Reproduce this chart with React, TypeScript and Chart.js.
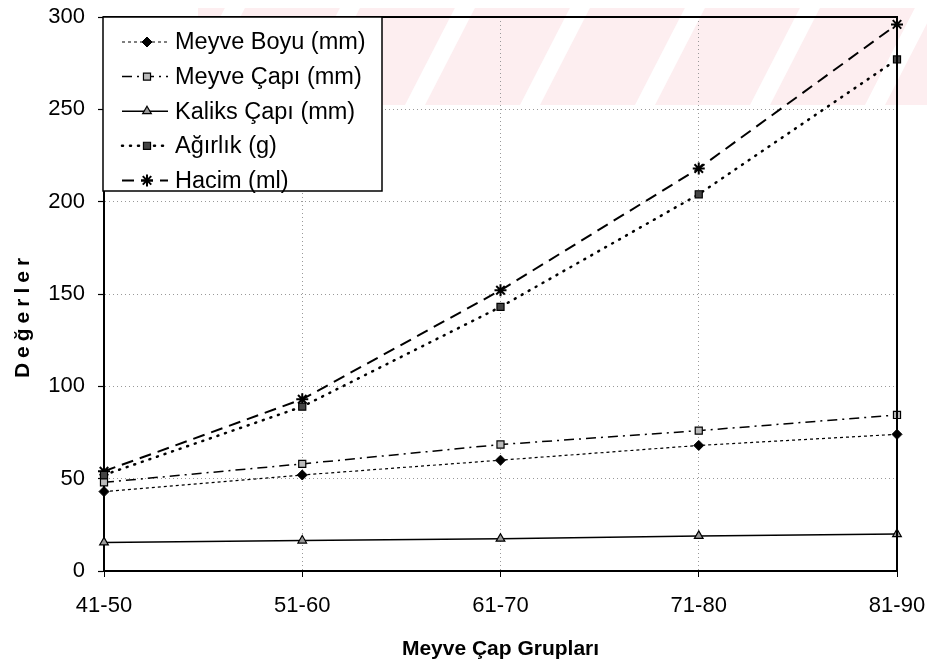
import React, { useEffect, useRef } from 'react';
import { Chart, registerables } from 'chart.js';
import { drawPoint } from 'chart.js/helpers';

Chart.register(...registerables);

const categories = ['41-50', '51-60', '61-70', '71-80', '81-90'];
const seriesNames = ['Meyve Boyu (mm)', 'Meyve Çapı (mm)', 'Kaliks Çapı (mm)', 'Ağırlık (g)', 'Hacim (ml)'];
const meyveBoyu = [43, 52, 60, 68, 74];
const meyveCapi = [48, 58, 68.5, 76, 84.5];
const kaliksCapi = [15.5, 16.5, 17.5, 19, 20];
const agirlik = [52, 89, 143, 204, 277];
const hacim = [54, 93, 152, 218, 296];
const yMin = 0;
const yMax = 300;
const yStep = 50;
const xTitle = 'Meyve Çap Grupları';
const yTitle = 'Değerler';

const FONT = '"Liberation Sans", Arial, sans-serif';
const W = 935;
const H = 668;

// faint pink scan watermark in the top band
const watermarkPlugin = {
  id: 'watermark',
  beforeDraw(chart: any) {
    const { ctx, width } = chart;
    const bandH = 105;
    const x0 = 198;
    ctx.save();
    ctx.fillStyle = '#ffffff';
    ctx.fillRect(0, 0, width, chart.height);
    ctx.beginPath();
    ctx.rect(x0, 0, width - x0, bandH);
    ctx.clip();
    ctx.fillStyle = '#fdeef0';
    ctx.fillRect(x0, 0, width - x0, bandH);
    ctx.fillStyle = '#ffffff';
    for (let x = 175; x < width + 120; x += 115) {
      ctx.beginPath();
      ctx.moveTo(x, bandH);
      ctx.lineTo(x + 20, bandH);
      ctx.lineTo(x + 20 + 54, 0);
      ctx.lineTo(x + 54, 0);
      ctx.closePath();
      ctx.fill();
    }
    ctx.restore();
  },
};

const framePlugin = {
  id: 'frame',
  afterDatasetsDraw(chart: any) {
    const { ctx, chartArea } = chart;
    ctx.save();
    ctx.strokeStyle = '#000';
    ctx.lineWidth = 2;
    ctx.beginPath();
    ctx.moveTo(chartArea.left, chartArea.top);
    ctx.lineTo(chartArea.right, chartArea.top);
    ctx.lineTo(chartArea.right, chartArea.bottom);
    ctx.stroke();
    ctx.restore();
  },
};

const legendPlugin = {
  id: 'boxLegend',
  afterDraw(chart: any) {
    const { ctx, chartArea } = chart;
    const left = chartArea.left - 1;
    const top = chartArea.top;
    const w = 279;
    const h = 174;
    ctx.save();
    ctx.fillStyle = '#fff';
    ctx.fillRect(left, top, w, h);
    ctx.strokeStyle = '#000';
    ctx.lineWidth = 1.5;
    ctx.strokeRect(left, top, w, h);
    chart.data.datasets.forEach((ds: any, i: number) => {
      const y = top + 25 + i * 34.6;
      ctx.save();
      ctx.strokeStyle = ds.borderColor;
      ctx.lineWidth = ds.borderWidth;
      ctx.lineCap = ds.borderCapStyle || 'butt';
      ctx.setLineDash(ds.borderDash || []);
      ctx.beginPath();
      ctx.moveTo(left + 19, y);
      ctx.lineTo(left + 65, y);
      ctx.stroke();
      ctx.restore();
      ctx.save();
      ctx.fillStyle = ds.pointBackgroundColor;
      ctx.strokeStyle = '#000';
      ctx.lineWidth = ds.pointBorderWidth;
      ctx.setLineDash([]);
      drawPoint(ctx, {
        pointStyle: ds.pointStyle,
        radius: ds.pointRadius,
        rotation: 0,
        borderWidth: ds.pointBorderWidth,
      }, left + 44, y);
      ctx.restore();
      ctx.fillStyle = '#000';
      ctx.font = `23.5px ${FONT}`;
      ctx.textBaseline = 'middle';
      ctx.textAlign = 'left';
      ctx.fillText(ds.label, left + 72, y + 1);
    });
    ctx.restore();
  },
};

const yTitlePlugin = {
  id: 'yTitle',
  afterDraw(chart: any) {
    const { ctx } = chart;
    ctx.save();
    ctx.translate(23, 318);
    ctx.rotate(-Math.PI / 2);
    ctx.font = `bold 21px ${FONT}`;
    (ctx as any).letterSpacing = '5px';
    ctx.fillStyle = '#000';
    ctx.textAlign = 'center';
    ctx.textBaseline = 'middle';
    ctx.fillText(yTitle, 2.5, 0);
    ctx.restore();
  },
};

export default function App() {
  const ref = useRef<HTMLCanvasElement | null>(null);
  useEffect(() => {
    if (!ref.current) return;
    const common = { borderColor: '#000', pointBorderColor: '#000', fill: false, tension: 0 };
    const chart = new Chart(ref.current, {
      type: 'line',
      data: {
        labels: categories,
        datasets: [
          { ...common, label: seriesNames[0], data: meyveBoyu, borderWidth: 1.2, borderDash: [3, 3], pointStyle: 'rectRot', pointRadius: 5, pointBackgroundColor: '#000', pointBorderWidth: 1 },
          { ...common, label: seriesNames[1], data: meyveCapi, borderWidth: 1.5, borderDash: [10, 5, 2, 5], pointStyle: 'rect', pointRadius: 5, pointBackgroundColor: '#bbb', pointBorderWidth: 1.2 },
          { ...common, label: seriesNames[2], data: kaliksCapi, borderWidth: 1.5, borderDash: [], pointStyle: 'triangle', pointRadius: 5, pointBackgroundColor: '#999', pointBorderWidth: 1.2 },
          { ...common, label: seriesNames[3], data: agirlik, borderWidth: 2.5, borderDash: [1, 7], borderCapStyle: 'round', pointStyle: 'rect', pointRadius: 5, pointBackgroundColor: '#444', pointBorderWidth: 1.2 },
          { ...common, label: seriesNames[4], data: hacim, borderWidth: 2, borderDash: [12, 7], pointStyle: 'star', pointRadius: 6, pointBackgroundColor: '#000', pointBorderWidth: 2 },
        ] as any,
      },
      options: {
        responsive: false,
        animation: false,
        layout: { padding: { left: 8, top: 17, right: 38, bottom: 0 } },
        plugins: { legend: { display: false }, tooltip: { enabled: false } },
        scales: {
          x: {
            type: 'category',
            offset: false,
            afterFit: (s: any) => { s.height = 97; s.paddingLeft = 0; s.paddingRight = 0; },
            grid: {
              color: (c: any) => (c.index === 0 || c.index === categories.length - 1 ? 'rgba(0,0,0,0)' : '#999'),
              lineWidth: 1,
              tickLength: 6,
              tickColor: '#000',
              tickWidth: 1,
              tickBorderDash: [],
            } as any,
            border: { color: '#000', width: 2, dash: [1, 3] },
            ticks: { color: '#000', font: { family: FONT, size: 22 }, padding: 16, maxRotation: 0 },
            title: { display: true, text: xTitle, color: '#000', font: { family: FONT, size: 21, weight: 'bold', lineHeight: 1 }, padding: { top: 0, bottom: 8 } },
          },
          y: {
            min: yMin,
            max: yMax,
            afterFit: (s: any) => { s.width = 96; s.paddingTop = 0; s.paddingBottom = 0; },
            ticks: { stepSize: yStep, color: '#000', font: { family: FONT, size: 22 }, padding: 13 },
            grid: {
              color: (c: any) => (c.tick && (c.tick.value === yMin || c.tick.value === yMax) ? 'rgba(0,0,0,0)' : '#999'),
              lineWidth: 1,
              tickLength: 6,
              tickColor: '#000',
              tickWidth: 1.2,
              tickBorderDash: [],
            } as any,
            border: { color: '#000', width: 2, dash: [1, 3] },
          },
        },
      } as any,
      plugins: [watermarkPlugin, framePlugin, legendPlugin, yTitlePlugin],
    });
    return () => chart.destroy();
  }, []);
  return (
    <div style={{ margin: -8, width: W, height: H }}>
      <canvas ref={ref} width={W} height={H} style={{ display: 'block' }} />
    </div>
  );
}
